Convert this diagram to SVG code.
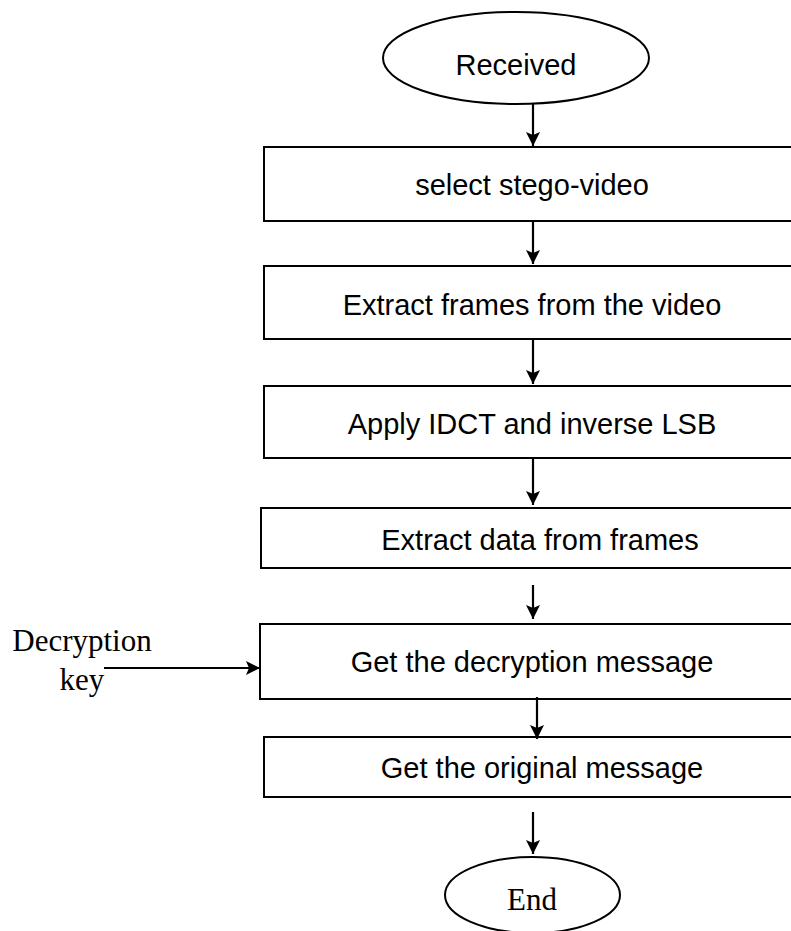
<svg xmlns="http://www.w3.org/2000/svg" width="791" height="931" viewBox="0 0 791 931">
<style>
.box{fill:#fff;stroke:#000;stroke-width:2}
.lbl{font-family:"Liberation Sans",Arial,sans-serif;font-size:29px;fill:#000;text-anchor:middle}
.ser{font-family:"Liberation Serif","Times New Roman",serif;font-size:31px;fill:#000;text-anchor:middle}
.con{stroke:#000;stroke-width:2.2;fill:none;marker-end:url(#ah)}
</style>
<defs>
<marker id="ah" viewBox="0 0 14 14" refX="14" refY="7" markerWidth="14" markerHeight="14" markerUnits="userSpaceOnUse" orient="auto">
<path d="M0,0 L14,7 L0,14 L3,7 z" fill="#000"/>
</marker>
</defs>
<g id="received">
<ellipse class="box" cx="516" cy="58" rx="133" ry="46"/>
<text class="lbl" x="516" y="75" font-size="28">Received</text>
</g>
<g id="select">
<rect class="box" x="264" y="147" width="540" height="74"/>
<text class="lbl" x="532" y="195">select stego-video</text>
</g>
<g id="extractframes">
<rect class="box" x="264" y="266" width="540" height="73"/>
<text class="lbl" x="532" y="315">Extract frames from the video</text>
</g>
<g id="apply">
<rect class="box" x="264" y="386" width="540" height="72"/>
<text class="lbl" x="532" y="434">Apply IDCT and inverse LSB</text>
</g>
<g id="extractdata">
<rect class="box" x="261" y="508" width="540" height="60"/>
<text class="lbl" x="540" y="550">Extract data from frames</text>
</g>
<g id="decrypt">
<rect class="box" x="260" y="624" width="540" height="75"/>
<text class="lbl" x="532" y="672">Get the decryption message</text>
</g>
<g id="original">
<rect class="box" x="264" y="737" width="540" height="60"/>
<text class="lbl" x="542" y="778">Get the original message</text>
</g>
<g id="end">
<ellipse class="box" cx="532.5" cy="895" rx="87.5" ry="38"/>
<text class="ser" x="532" y="910" font-size="32">End</text>
</g>
<g id="keylabel">
<text class="ser" x="82" y="651">Decryption</text>
<text class="ser" x="82" y="690">key</text>
</g>
<g id="connectors">
<line class="con" x1="533" y1="104" x2="533" y2="146"/>
<line class="con" x1="533" y1="221" x2="533" y2="264"/>
<line class="con" x1="533" y1="339" x2="533" y2="384"/>
<line class="con" x1="533" y1="458" x2="533" y2="505"/>
<line class="con" x1="533" y1="585" x2="533" y2="619"/>
<line class="con" x1="537" y1="697" x2="537" y2="739"/>
<line class="con" x1="533" y1="812" x2="533" y2="854"/>
<line class="con" x1="104" y1="668" x2="260" y2="668"/>
</g>
</svg>
